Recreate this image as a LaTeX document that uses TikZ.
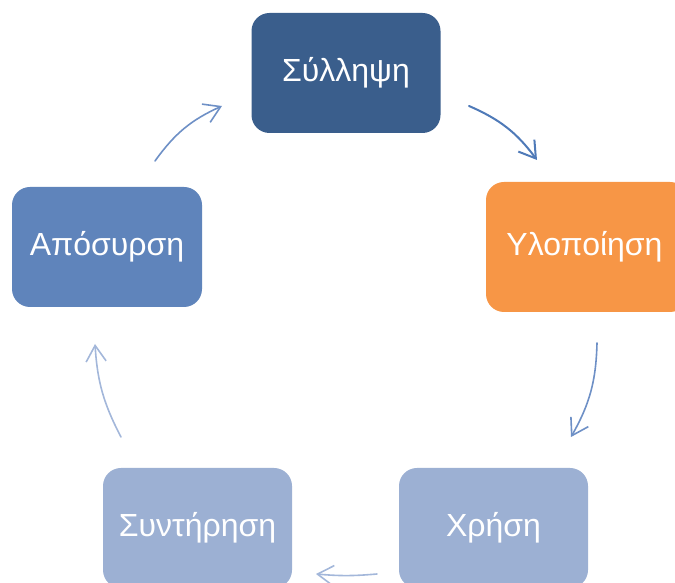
\documentclass[tikz,border=0pt]{standalone}
\usepackage{fontspec}
\setmainfont{Liberation Sans}
\usetikzlibrary{arrows.meta}
\definecolor{cDark}{HTML}{3A5E8C}
\definecolor{cOrange}{HTML}{F79646}
\definecolor{cMid}{HTML}{5F84BB}
\definecolor{cLight}{HTML}{9CB0D3}
\definecolor{aDark}{HTML}{4F7AB8}
\definecolor{aMid}{HTML}{6E90C6}
\definecolor{aLight}{HTML}{A3B7DA}
\begin{document}
\begin{tikzpicture}[x=1pt,y=1pt,
  stagebox/.style={rectangle, rounded corners=18pt, minimum width=189pt, minimum height=120pt, inner sep=0pt, text=white, font=\fontsize{32}{38}\selectfont},
  cyc/.style={-{Straight Barb[length=16pt,width=20pt]}, line width=1.6pt, line cap=round}]
\useasboundingbox (0,0) rectangle (675,583);
\clip (0,0) rectangle (675,583);
\node[stagebox, fill=cDark] (s1) at (346,510) {Σύλληψη};
\node[stagebox, fill=cOrange, minimum width=202pt, minimum height=130pt] (s2) at (587,336) {\hspace*{-5pt}Υλοποίηση};
\node[stagebox, fill=cLight] (s3) at (493.5,55) {Χρήση};
\node[stagebox, fill=cLight] (s4) at (197.5,55) {Συντήρηση};
\node[stagebox, fill=cMid, minimum width=190pt] (s5) at (107,336) {Απόσυρση};
\coordinate (a1s) at (469,477); \coordinate (a1e) at (537,423);
\coordinate (a2s) at (597,240); \coordinate (a2e) at (571,146);
\coordinate (a3s) at (377,9);   \coordinate (a3e) at (316,9);
\coordinate (a4s) at (121,146); \coordinate (a4e) at (95,239);
\coordinate (a5s) at (155,422); \coordinate (a5e) at (222,477);
\draw[cyc, draw=aDark, line width=2pt] (a1s) to[bend left=15] (a1e);
\draw[cyc, draw=aMid] (a2s) to[bend left=14] (a2e);
\draw[cyc, draw=aLight] (a3s) to[bend left=5] (a3e);
\draw[cyc, draw=aLight] (a4s) to[bend left=12] (a4e);
\draw[cyc, draw=aMid] (a5s) to[bend left=15] (a5e);
\end{tikzpicture}
\end{document}
